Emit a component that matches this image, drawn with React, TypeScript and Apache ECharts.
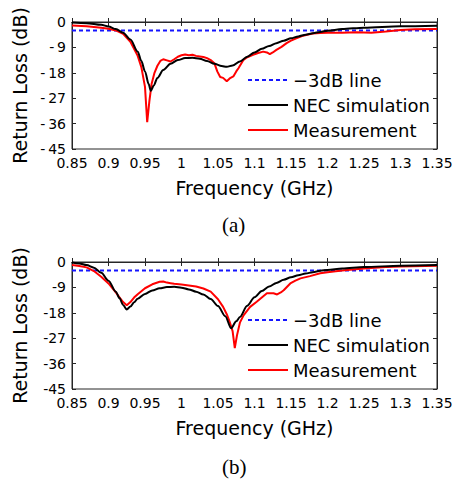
import React, { useEffect, useRef } from "react";
import * as echarts from "echarts";

// ---- data (a) ----
const simFreqA = [0.85, 0.87, 0.89, 0.9, 0.91, 0.92, 0.93, 0.94, 0.945, 0.95, 0.955, 0.958, 0.962, 0.967, 0.975, 0.985, 0.995, 1.005, 1.015, 1.025, 1.035, 1.045, 1.055, 1.062, 1.07, 1.08, 1.09, 1.1, 1.11, 1.12, 1.13, 1.14, 1.15, 1.16, 1.17, 1.18, 1.19, 1.2, 1.22, 1.25, 1.3, 1.35];
const simLossA = [-0.2, -0.4, -1.0, -1.6, -2.5, -3.8, -6.2, -10.5, -13.8, -17.5, -22, -24.4, -22.5, -19.8, -17, -14.8, -13.5, -12.8, -12.7, -13.0, -13.8, -14.8, -15.6, -15.9, -15.4, -14.0, -12.3, -10.8, -9.5, -8.5, -7.5, -6.6, -5.8, -5.1, -4.5, -4.0, -3.5, -3.1, -2.5, -2.0, -1.5, -1.3];
const measFreqA = [0.85, 0.87, 0.89, 0.9, 0.91, 0.92, 0.93, 0.94, 0.945, 0.95, 0.953, 0.956, 0.959, 0.963, 0.967, 0.971, 0.975, 0.98, 0.985, 0.99, 0.995, 1.0, 1.005, 1.01, 1.015, 1.02, 1.025, 1.03, 1.035, 1.04, 1.045, 1.049, 1.053, 1.057, 1.062, 1.066, 1.071, 1.075, 1.078, 1.085, 1.09, 1.098, 1.105, 1.112, 1.117, 1.121, 1.125, 1.13, 1.137, 1.144, 1.15, 1.158, 1.165, 1.172, 1.18, 1.19, 1.2, 1.22, 1.24, 1.26, 1.28, 1.3, 1.32, 1.35];
const measLossA = [-1.2, -1.5, -2.0, -2.4, -3.0, -4.2, -7, -12, -16, -23, -35.5, -28, -22, -18, -15.5, -13.8, -13.2, -13.6, -14.0, -13.2, -12.3, -11.8, -11.5, -11.8, -11.6, -12.0, -12.2, -12.4, -12.8, -13.5, -14.6, -17.5, -19.5, -19.8, -21.0, -20.0, -19.3, -17.5, -16.4, -13.4, -12.5, -11.6, -11.0, -10.5, -10.8, -11.4, -10.8, -9.9, -8.8, -7.5, -6.6, -5.7, -5.0, -4.5, -4.1, -3.9, -3.8, -3.8, -3.6, -3.8, -3.4, -2.8, -2.6, -2.5];

// ---- data (b) ----
const simFreqB = [0.85, 0.86, 0.87, 0.88, 0.89, 0.9, 0.91, 0.915, 0.92, 0.925, 0.93, 0.935, 0.94, 0.95, 0.96, 0.97, 0.98, 0.99, 1.0, 1.01, 1.02, 1.03, 1.04, 1.05, 1.06, 1.068, 1.075, 1.08, 1.09, 1.1, 1.11, 1.12, 1.13, 1.14, 1.15, 1.16, 1.17, 1.18, 1.19, 1.2, 1.22, 1.25, 1.3, 1.35];
const simLossB = [-0.2, -0.5, -1.1, -2.0, -3.8, -6.6, -10.5, -12.8, -15.2, -16.8, -15.8, -14.3, -13.0, -11.3, -10.1, -9.3, -8.9, -8.8, -9.1, -9.7, -10.5, -11.5, -13.1, -15.6, -19.2, -23.5, -21, -19.5, -15.5, -12.5, -10.3, -8.7, -7.4, -6.3, -5.4, -4.7, -4.1, -3.6, -3.1, -2.8, -2.3, -1.8, -1.3, -1.1];
const measFreqB = [0.85, 0.86, 0.87, 0.88, 0.89, 0.9, 0.91, 0.915, 0.92, 0.925, 0.93, 0.935, 0.94, 0.95, 0.96, 0.97, 0.975, 0.98, 0.985, 0.99, 1.0, 1.01, 1.02, 1.03, 1.04, 1.05, 1.057, 1.062, 1.066, 1.07, 1.073, 1.076, 1.08, 1.085, 1.094, 1.103, 1.11, 1.117, 1.126, 1.131, 1.136, 1.14, 1.149, 1.156, 1.163, 1.176, 1.19, 1.2, 1.22, 1.25, 1.28, 1.3, 1.35];
const measLossB = [-1.1, -1.4, -1.9, -3.2, -5.2, -7.6, -10.8, -12.5, -14.2, -15.3, -14.2, -12.6, -11.4, -9.3, -7.9, -7.0, -6.9, -7.3, -7.5, -7.7, -8.0, -8.3, -8.7, -9.4, -10.5, -13.2, -15.9, -18.5, -21.2, -24.5, -30.5, -26, -21.5, -18.9, -15.9, -14.1, -12.6, -11.1, -11.1, -11.5, -10.8, -10.0, -7.6, -6.6, -5.8, -5.0, -4.0, -3.6, -3.0, -2.3, -1.8, -1.6, -1.3];

const thresholdFreq = [0.85, 1.35];
const thresholdLoss = [-3, -3];

const seriesNames = ["\u22123dB line", "NEC simulation", "Measurement"];
const panelLabels = ["(a)", "(b)"];

const zip = (xs: number[], ys: number[]) => xs.map((x, i) => [x, ys[i]]);

const FONT = "DejaVu Sans";

export default function App() {
  const ref = useRef<HTMLDivElement>(null);
  useEffect(() => {
    if (!ref.current) return;
    const chart = echarts.init(ref.current, null, { renderer: "svg" });
    const gridTops = [22, 262];
    const grids = gridTops.map((t) => ({ left: 72, right: 24, top: t, height: 127, show: true, borderColor: "#262626", borderWidth: 1, backgroundColor: "transparent" }));
    const xAxis: any[] = [];
    const yAxis: any[] = [];
    gridTops.forEach((_, g) => {
      xAxis.push({
        type: "value", gridIndex: g, min: 0.85, max: 1.35, interval: 0.05, position: "bottom",
        name: "Frequency (GHz)", nameLocation: "middle", nameGap: 29,
        nameTextStyle: { fontFamily: FONT, fontSize: 19, color: "#000" },
        axisLine: { show: true, lineStyle: { color: "#262626", width: 1 } },
        axisTick: { show: true, inside: true, length: 4, lineStyle: { color: "#262626" } },
        axisLabel: { fontFamily: FONT, fontSize: 14, color: "#000", margin: 7, formatter: (v: number) => String(+v.toFixed(2)) },
        splitLine: { show: false },
      });
      xAxis.push({
        type: "value", gridIndex: g, min: 0.85, max: 1.35, interval: 0.05, position: "top",
        axisLine: { show: true, lineStyle: { color: "#262626", width: 1 } },
        axisTick: { show: true, inside: true, length: 4, lineStyle: { color: "#262626" } },
        axisLabel: { show: false }, splitLine: { show: false },
      });
      yAxis.push({
        type: "value", gridIndex: g, min: -45, max: 0, interval: 9, position: "left",
        name: "Return Loss (dB)", nameLocation: "middle", nameGap: 43, nameRotate: 90,
        nameTextStyle: { fontFamily: FONT, fontSize: 19, color: "#000" },
        axisLine: { show: true, lineStyle: { color: "#262626", width: 1 } },
        axisTick: { show: true, inside: true, length: 4, lineStyle: { color: "#262626" } },
        axisLabel: {
          fontFamily: FONT, fontSize: 14, color: "#000", margin: 6,
          formatter: (v: number) => (v === 0 ? "0" : g === 0 ? "-\u2009" + Math.abs(v) : "-" + Math.abs(v)),
        },
        splitLine: { show: false },
      });
      yAxis.push({
        type: "value", gridIndex: g, min: -45, max: 0, interval: 9, position: "right",
        axisLine: { show: true, lineStyle: { color: "#262626", width: 1 } },
        axisTick: { show: true, inside: true, length: 4, lineStyle: { color: "#262626" } },
        axisLabel: { show: false }, splitLine: { show: false },
      });
    });

    const panels = [
      { sim: zip(simFreqA, simLossA), meas: zip(measFreqA, measLossA) },
      { sim: zip(simFreqB, simLossB), meas: zip(measFreqB, measLossB) },
    ];
    const series: any[] = [];
    panels.forEach((p, g) => {
      series.push({
        name: seriesNames[0], type: "line", xAxisIndex: 2 * g, yAxisIndex: 2 * g, symbol: "none",
        data: zip(thresholdFreq, thresholdLoss), lineStyle: { color: "#1414ff", width: 2, type: [4, 3] }, itemStyle: { color: "#1414ff" }, z: 1,
      });
      series.push({
        name: seriesNames[2], type: "line", xAxisIndex: 2 * g, yAxisIndex: 2 * g, symbol: "none",
        data: p.meas, lineStyle: { color: "#ff0000", width: 2 }, itemStyle: { color: "#ff0000" }, z: 2,
      });
      series.push({
        name: seriesNames[1], type: "line", xAxisIndex: 2 * g, yAxisIndex: 2 * g, symbol: "none", smooth: 0.3, smoothMonotone: "x",
        data: p.sim, lineStyle: { color: "#000000", width: 2 }, itemStyle: { color: "#000000" }, z: 3,
      });
    });

    const legends = [71, 311].map((t) => ({
      orient: "vertical", left: 247, top: t, padding: 0, itemWidth: 40, itemHeight: 14, itemGap: 7,
      data: seriesNames, selectedMode: false,
      itemStyle: { opacity: 0 },
      textStyle: { fontFamily: FONT, fontSize: 18, color: "#000", lineHeight: 18 },
    }));

    chart.setOption({
      animation: false,
      backgroundColor: "#fff",
      grid: grids,
      xAxis, yAxis, series,
      legend: legends,
      graphic: panelLabels.map((txt, i) => ({
        type: "text", left: 222, top: i === 0 ? 214 : 456,
        style: { text: txt, fontFamily: "Liberation Serif", fontSize: 21, fill: "#000" },
      })),
    });
    return () => chart.dispose();
  }, []);
  return <div ref={ref} style={{ position: "fixed", left: 0, top: 0, width: 461, height: 482 }} />;
}
